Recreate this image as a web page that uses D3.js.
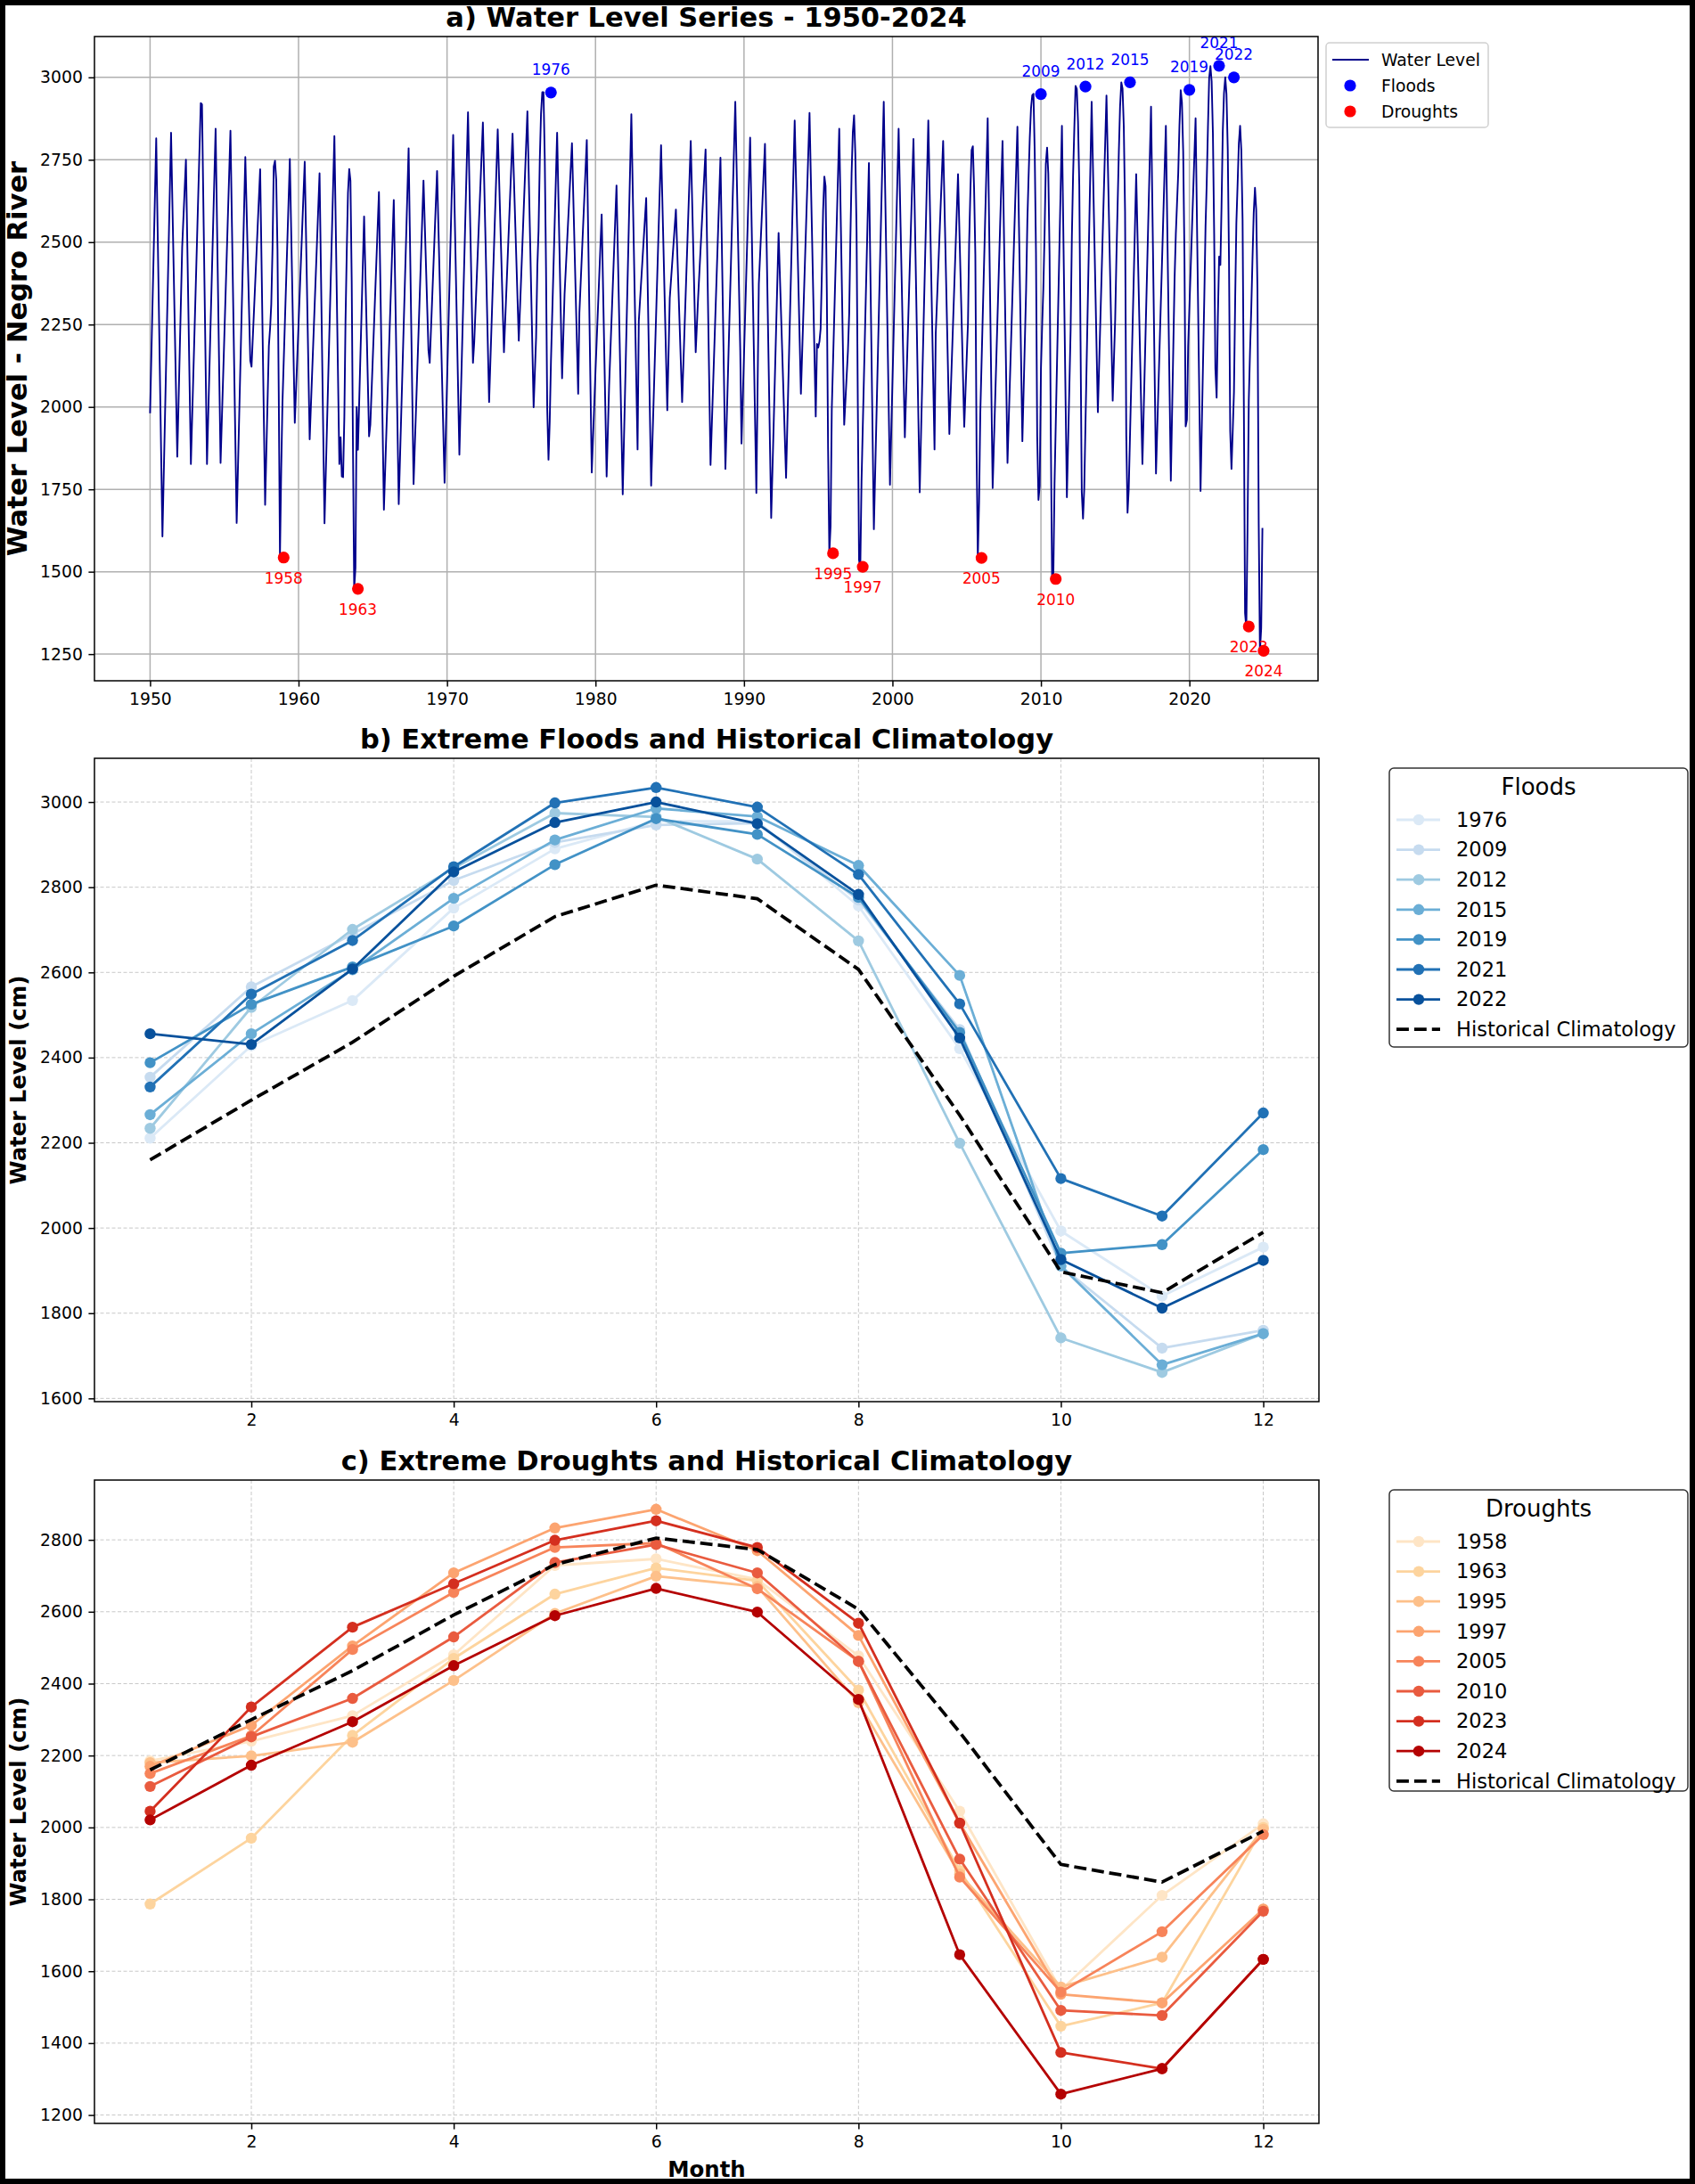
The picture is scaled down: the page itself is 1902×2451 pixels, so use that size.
<!DOCTYPE html>
<html><head><meta charset="utf-8">
<script src="https://cdn.jsdelivr.net/npm/d3@7"></script>
<style>
body{margin:0;background:#fff;}
svg{display:block;font-family:"DejaVu Sans",sans-serif;}
</style></head><body>
<svg id="chart" width="1902" height="2451"></svg>
<script>
// ---------------- DATA ----------------
const months = [1,2,3,4,5,6,7,8,9,10,11,12];
const climatology = [2160,2300,2436,2591,2731,2805,2773,2607,2265,1897,1848,1990];

const floodYears = [1976,2009,2012,2015,2019,2021,2022];
const floodMonthly = [
  [2211,2428,2534,2751,2890,2955,2955,2756,2421,1993,1840,1955],
  [2354,2566,2690,2816,2905,2946,2950,2770,2466,1910,1718,1760],
  [2234,2518,2701,2845,2974,2965,2866,2674,2199,1742,1661,1752],
  [2266,2456,2606,2774,2911,2985,2966,2851,2593,1911,1679,1752],
  [2388,2525,2613,2709,2853,2961,2924,2776,2459,1941,1961,2184],
  [2331,2549,2675,2848,2998,3034,2988,2830,2526,2116,2028,2270],
  [2456,2431,2608,2836,2952,3000,2949,2783,2446,1926,1812,1924]
];
const floodMarkerValues = [2954,2949,2972,2985,2962,3035,3000];

const droughtYears = [1958,1963,1995,1997,2005,2010,2023,2024];
const droughtMonthly = [
  [2185,2240,2311,2480,2729,2747,2690,2477,2045,1548,1811,2010],
  [1787,1970,2256,2470,2649,2722,2686,2382,1880,1447,1512,2000],
  [2180,2199,2237,2409,2595,2699,2670,2347,1870,1556,1639,1995],
  [2170,2284,2505,2708,2833,2885,2770,2534,2012,1536,1512,1773],
  [2150,2255,2495,2654,2779,2791,2664,2462,1862,1542,1710,1980],
  [2114,2252,2359,2530,2737,2787,2708,2462,1912,1491,1477,1767],
  [2045,2335,2557,2678,2799,2853,2779,2568,2012,1374,1329,1633],
  [2021,2173,2294,2450,2589,2665,2599,2356,1646,1258,1329,1633]
];
const droughtMarkerValues = [1543,1448,1556,1515,1542,1478,1334,1260];

// Monthly water level (year, month, value) for the remaining years: peaks, troughs, visible kinks
const levelPoints = [
  [1950,1,1981],[1950,6,2815],[1950,11,1607],
  [1951,6,2832],[1951,11,1849],
  [1952,3,2486],[1952,6,2750],[1952,10,1827],
  [1953,6,2922],[1953,7,2918],[1953,11,1827],
  [1954,6,2844],[1954,10,1830],
  [1955,6,2838],[1955,11,1648],
  [1956,6,2758],[1956,10,2140],[1956,11,2122],
  [1957,6,2721],[1957,10,1703],
  [1959,6,2752],[1959,10,1952],
  [1960,6,2744],[1960,10,1902],
  [1961,6,2709],[1961,10,1647],
  [1962,6,2822],[1962,10,1827],[1962,11,1908],[1962,12,1789],
  [1964,1,1870],[1964,6,2578],[1964,10,1911],[1964,11,1946],
  [1965,6,2652],[1965,10,1688],
  [1966,6,2628],[1966,10,1705],
  [1967,6,2785],[1967,10,1766],
  [1968,6,2687],[1968,10,2172],[1968,11,2134],
  [1969,5,2716],[1969,11,1770],
  [1970,6,2825],[1970,11,1855],
  [1971,6,2894],[1971,10,2134],[1971,11,2197],
  [1972,6,2863],[1972,11,2015],
  [1973,6,2842],[1973,11,2166],
  [1974,6,2829],[1974,11,2201],
  [1975,6,2897],[1975,11,1999],
  [1977,1,2141],[1977,6,2832],[1977,10,2087],[1977,12,2342],
  [1978,6,2800],[1978,11,2040],[1978,12,2285],
  [1979,6,2810],[1979,10,1801],
  [1980,1,2109],[1980,6,2584],[1980,10,1789],[1980,12,2065],
  [1981,6,2672],[1981,11,1735],
  [1982,6,2888],[1982,11,1871],[1982,12,2260],
  [1983,6,2634],[1983,10,1761],
  [1984,6,2794],[1984,11,1990],
  [1985,1,2330],[1985,6,2599],[1985,11,2015],
  [1986,6,2807],[1986,10,2166],[1986,12,2335],
  [1987,6,2781],[1987,10,1824],
  [1988,6,2756],[1988,10,1812],
  [1989,6,2926],[1989,10,2172],[1989,11,1889],
  [1990,6,2817],[1990,11,1739],
  [1991,1,2373],[1991,6,2798],[1991,11,1663],
  [1992,1,1946],[1992,5,2528],[1992,11,1785],
  [1993,6,2869],[1993,11,2040],
  [1994,6,2892],[1994,11,1971],[1994,12,2191],
  [1996,6,2844],[1996,10,1946],
  [1998,6,2740],[1998,10,1629],
  [1999,6,2926],[1999,11,1764],
  [2000,6,2844],[2000,11,1908],
  [2001,6,2813],[2001,11,1741],
  [2002,6,2869],[2002,11,1871],[2002,12,2222],
  [2003,6,2807],[2003,11,1918],
  [2004,6,2706],[2004,11,1940],
  [2006,6,2876],[2006,10,1754],
  [2007,6,2807],[2007,10,1830],
  [2008,6,2850],[2008,10,1896],
  [2011,6,2853],[2011,10,1726],
  [2013,6,2926],[2013,11,1984],
  [2014,6,2945],[2014,11,2019],
  [2016,6,2706],[2016,11,1827],
  [2017,6,2911],[2017,10,1798],
  [2018,6,2853],[2018,10,1776],
  [2020,6,2876],[2020,10,1745]
];

const xTicksA = [1950,1960,1970,1980,1990,2000,2010,2020];
const yTicksA = [1250,1500,1750,2000,2250,2500,2750,3000];
const monthTicks = [2,4,6,8,10,12];
const yTicksB = [1600,1800,2000,2200,2400,2600,2800,3000];
const yTicksC = [1200,1400,1600,1800,2000,2200,2400,2600,2800];

// ---------------- STYLE ----------------
const floodColors = ["#dbe9f6","#c6dbef","#9ecae1","#6baed6","#4292c6","#2171b5","#08519c"];
const droughtColors = ["#fee5c6","#fdd49e","#fdc08a","#fca470","#f7845a","#e95b3f","#d42f1f","#b40202"];
const TICK_FS = 18.75, TICK_LEN = 6.6, TICK_PAD = 6.6;

const svg = d3.select("#chart");
svg.append("rect").attr("width",1902).attr("height",2451).attr("fill","#fff");

function pad(ext){ const s=(ext[1]-ext[0])*0.05; return [ext[0]-s, ext[1]+s]; }

function styleAxis(g){
  g.select(".domain").remove();
  g.selectAll(".tick line").attr("stroke","#000").attr("stroke-width",1.5);
  g.selectAll(".tick text").attr("fill","#000").style("font-size",TICK_FS+"px")
    .style("font-family","'DejaVu Sans',sans-serif");
}

function frame(box){
  svg.append("rect").attr("x",box.l).attr("y",box.t).attr("width",box.r-box.l).attr("height",box.b-box.t)
    .attr("fill","none").attr("stroke","#000").attr("stroke-width",1.5);
}

function title(box, text){
  svg.append("text").attr("x",(box.l+box.r)/2).attr("y",box.t-11).attr("text-anchor","middle")
    .style("font-size","30.5px").style("font-weight","bold").text(text);
}

// ---------------- PANEL A ----------------
const boxA = {l:106, r:1479, t:41, b:764};

// build series
const seriesA = [];
levelPoints.forEach(p => seriesA.push({date:new Date(p[0],p[1]-1,1), v:p[2]}));
floodYears.forEach((yr,i) => floodMonthly[i].forEach((v,m) => seriesA.push({date:new Date(yr,m,1), v})));
droughtYears.forEach((yr,i) => {
  if (floodYears.includes(yr)) return;
  droughtMonthly[i].forEach((v,m) => seriesA.push({date:new Date(yr,m,1), v}));
});
seriesA.sort((a,b)=>a.date-b.date);

const floodPts = floodYears.map((yr,i)=>({yr, date:new Date(yr,11,31), v:floodMarkerValues[i]}));
const droughtPts = droughtYears.map((yr,i)=>({yr, date:new Date(yr,11,31), v:droughtMarkerValues[i]}));

const tExt = d3.extent(seriesA, d=>+d.date);
const xA = d3.scaleTime().domain(pad(tExt).map(t=>new Date(t))).range([boxA.l, boxA.r]);
const allA = seriesA.map(d=>d.v).concat(floodMarkerValues, droughtMarkerValues);
const yA = d3.scaleLinear().domain(pad(d3.extent(allA))).range([boxA.b, boxA.t]);

const gA = svg.append("g");
// grid
gA.append("g").selectAll("line").data(xTicksA).join("line")
  .attr("x1",d=>xA(new Date(d,0,1))).attr("x2",d=>xA(new Date(d,0,1)))
  .attr("y1",boxA.t).attr("y2",boxA.b).attr("stroke","#b0b0b0").attr("stroke-width",1.5);
gA.append("g").selectAll("line").data(yTicksA).join("line")
  .attr("x1",boxA.l).attr("x2",boxA.r).attr("y1",d=>yA(d)).attr("y2",d=>yA(d))
  .attr("stroke","#b0b0b0").attr("stroke-width",1.5);

gA.append("path").datum(seriesA)
  .attr("d", d3.line().x(d=>xA(d.date)).y(d=>yA(d.v)))
  .attr("fill","none").attr("stroke","#00008b").attr("stroke-width",1.9).attr("stroke-linejoin","round");

gA.append("g").selectAll("circle").data(floodPts).join("circle")
  .attr("cx",d=>xA(d.date)).attr("cy",d=>yA(d.v)).attr("r",6.6).attr("fill","#0000ff");
gA.append("g").selectAll("circle").data(droughtPts).join("circle")
  .attr("cx",d=>xA(d.date)).attr("cy",d=>yA(d.v)).attr("r",6.6).attr("fill","#ff0000");
gA.append("g").selectAll("text").data(floodPts).join("text")
  .attr("x",d=>xA(d.date)).attr("y",d=>yA(d.v)-19.5).attr("text-anchor","middle")
  .attr("fill","#0000ff").style("font-size","16.9px").text(d=>d.yr);
gA.append("g").selectAll("text").data(droughtPts).join("text")
  .attr("x",d=>xA(d.date)).attr("y",d=>yA(d.v)+29).attr("text-anchor","middle")
  .attr("fill","#ff0000").style("font-size","16.9px").text(d=>d.yr);

const axXA = svg.append("g").attr("transform",`translate(0,${boxA.b})`)
  .call(d3.axisBottom(xA).tickValues(xTicksA.map(y=>new Date(y,0,1))).tickFormat(d3.timeFormat("%Y"))
    .tickSize(TICK_LEN).tickPadding(TICK_PAD));
styleAxis(axXA);
const axYA = svg.append("g").attr("transform",`translate(${boxA.l},0)`)
  .call(d3.axisLeft(yA).tickValues(yTicksA).tickFormat(d3.format("d")).tickSize(TICK_LEN).tickPadding(TICK_PAD));
styleAxis(axYA);
frame(boxA);
title(boxA, "a) Water Level Series - 1950-2024");
svg.append("text").attr("transform",`translate(30,${(boxA.t+boxA.b)/2}) rotate(-90)`)
  .attr("text-anchor","middle").style("font-size","30.5px").style("font-weight","bold")
  .text("Water Level - Negro River");

// legend A
(function(){
  const g = svg.append("g");
  g.append("rect").attr("x",1488).attr("y",48).attr("width",182).attr("height",95).attr("rx",4)
    .attr("fill","#fff").attr("stroke","#d0d0d0").attr("stroke-width",1.5);
  const rows = [67,96,125];
  g.append("line").attr("x1",1495).attr("x2",1536).attr("y1",rows[0]).attr("y2",rows[0])
    .attr("stroke","#00008b").attr("stroke-width",1.9);
  g.append("circle").attr("cx",1515).attr("cy",rows[1]).attr("r",6.6).attr("fill","#0000ff");
  g.append("circle").attr("cx",1515).attr("cy",rows[2]).attr("r",6.6).attr("fill","#ff0000");
  ["Water Level","Floods","Droughts"].forEach((t,i)=>{
    g.append("text").attr("x",1550).attr("y",rows[i]).attr("dy","0.35em")
      .style("font-size","18.75px").text(t);
  });
})();

// ---------------- PANELS B & C ----------------
function monthPanel(box, names, data, colors, yTicks, titleText, legendTitle, legBox){
  const all = data.flat().concat(climatology);
  const x = d3.scaleLinear().domain(pad([1,12])).range([box.l, box.r]);
  const y = d3.scaleLinear().domain(pad(d3.extent(all))).range([box.b, box.t]);
  const g = svg.append("g");
  // grid
  g.append("g").selectAll("line").data(monthTicks).join("line")
    .attr("x1",d=>x(d)).attr("x2",d=>x(d)).attr("y1",box.t).attr("y2",box.b)
    .attr("stroke","#c8c8c8").attr("stroke-width",1).attr("stroke-dasharray","4,2.5");
  g.append("g").selectAll("line").data(yTicks).join("line")
    .attr("x1",box.l).attr("x2",box.r).attr("y1",d=>y(d)).attr("y2",d=>y(d))
    .attr("stroke","#c8c8c8").attr("stroke-width",1).attr("stroke-dasharray","4,2.5");
  const line = d3.line().x((d,i)=>x(months[i])).y(d=>y(d));
  data.forEach((vals,k)=>{
    const s = g.append("g");
    s.append("path").datum(vals).attr("d",line).attr("fill","none")
      .attr("stroke",colors[k]).attr("stroke-width",2.8).attr("stroke-linejoin","round");
    s.selectAll("circle").data(vals).join("circle")
      .attr("cx",(d,i)=>x(months[i])).attr("cy",d=>y(d)).attr("r",6.2).attr("fill",colors[k]);
  });
  g.append("path").datum(climatology).attr("d",line).attr("fill","none")
    .attr("stroke","#000").attr("stroke-width",3.75).attr("stroke-dasharray","13.9,6");

  const ax = svg.append("g").attr("transform",`translate(0,${box.b})`)
    .call(d3.axisBottom(x).tickValues(monthTicks).tickFormat(d3.format("d")).tickSize(TICK_LEN).tickPadding(TICK_PAD));
  styleAxis(ax);
  const ay = svg.append("g").attr("transform",`translate(${box.l},0)`)
    .call(d3.axisLeft(y).tickValues(yTicks).tickFormat(d3.format("d")).tickSize(TICK_LEN).tickPadding(TICK_PAD));
  styleAxis(ay);
  frame(box);
  title(box, titleText);
  svg.append("text").attr("transform",`translate(29,${(box.t+box.b)/2}) rotate(-90)`)
    .attr("text-anchor","middle").style("font-size","24.4px").style("font-weight","bold")
    .text("Water Level (cm)");

  // legend
  const lg = svg.append("g");
  lg.append("rect").attr("x",legBox.l).attr("y",legBox.t).attr("width",legBox.r-legBox.l)
    .attr("height",legBox.b-legBox.t).attr("rx",5).attr("fill","#fff")
    .attr("stroke","#333").attr("stroke-width",1.5);
  lg.append("text").attr("x",(legBox.l+legBox.r)/2).attr("y",legBox.t+21).attr("dy","0.35em")
    .attr("text-anchor","middle").style("font-size","26px").text(legendTitle);
  const row0 = legBox.t+58, step = 33.6;
  names.forEach((n,k)=>{
    const yy = row0 + k*step;
    lg.append("line").attr("x1",legBox.l+8).attr("x2",legBox.l+57).attr("y1",yy).attr("y2",yy)
      .attr("stroke",colors[k]).attr("stroke-width",2.8);
    lg.append("circle").attr("cx",legBox.l+33).attr("cy",yy).attr("r",6.2).attr("fill",colors[k]);
    lg.append("text").attr("x",legBox.l+75).attr("y",yy).attr("dy","0.35em")
      .style("font-size","22.5px").text(n);
  });
  const yh = row0 + names.length*step;
  lg.append("line").attr("x1",legBox.l+8).attr("x2",legBox.l+57).attr("y1",yh).attr("y2",yh)
    .attr("stroke","#000").attr("stroke-width",3.75).attr("stroke-dasharray","13.9,6");
  lg.append("text").attr("x",legBox.l+75).attr("y",yh).attr("dy","0.35em")
    .style("font-size","22.5px").text("Historical Climatology");
  return box;
}

const boxB = {l:106, r:1480, t:851, b:1573};
monthPanel(boxB, floodYears, floodMonthly, floodColors, yTicksB,
  "b) Extreme Floods and Historical Climatology", "Floods", {l:1559, r:1894, t:862, b:1175});

const boxC = {l:106, r:1480, t:1661, b:2383};
monthPanel(boxC, droughtYears, droughtMonthly, droughtColors, yTicksC,
  "c) Extreme Droughts and Historical Climatology", "Droughts", {l:1559, r:1894, t:1672, b:2010});

svg.append("text").attr("x",(boxC.l+boxC.r)/2).attr("y",2443).attr("text-anchor","middle")
  .style("font-size","24.4px").style("font-weight","bold").text("Month");

// outer black frame
svg.append("rect").attr("x",0).attr("y",0).attr("width",1902).attr("height",2451)
  .attr("fill","none").attr("stroke","#000").attr("stroke-width",12);
</script>
</body></html>
